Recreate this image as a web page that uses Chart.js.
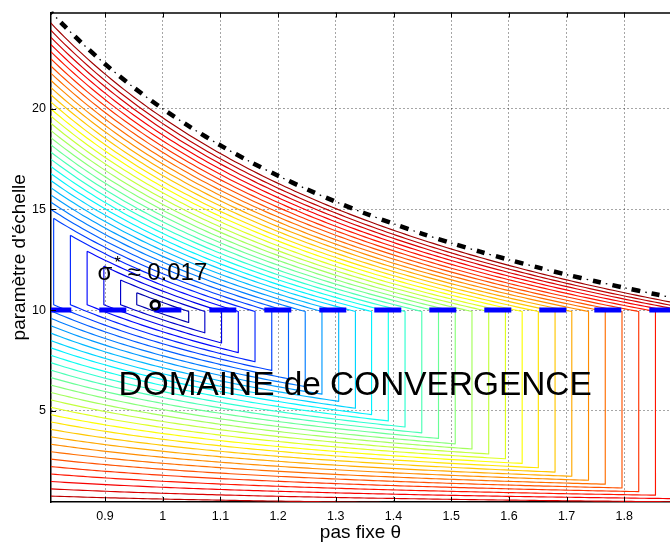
<!DOCTYPE html>
<html>
<head>
<meta charset="utf-8">
<script src="https://cdn.jsdelivr.net/npm/chart.js@4.4.1/dist/chart.umd.min.js"></script>
<style>
html,body{margin:0;padding:0;background:#fff;}
#wrap{width:670px;height:545px;}
</style>
</head>
<body>
<div id="wrap"><canvas id="c" width="670" height="545"></canvas></div>
<script>
// ---------- data ----------
const thetaRange = [0.8064, 1.8792];          // pas fixe θ (x axis limits)
const sigmaRange = [0.47, 24.78];             // paramètre d'échelle (y axis limits)
const thetaTicks = [0.9, 1.0, 1.1, 1.2, 1.3, 1.4, 1.5, 1.6, 1.7, 1.8];
const sigmaTicks = [5, 10, 15, 20];

// contour levels: each contour has vertical edges at θ = 1 ± level
const contourLevels = [0.045, 0.073, 0.102, 0.131, 0.160, 0.189, 0.218, 0.247, 0.276, 0.305,
                       0.334, 0.362, 0.391, 0.420, 0.449, 0.478, 0.507, 0.536, 0.565, 0.594,
                       0.623, 0.651, 0.680, 0.709, 0.738, 0.767, 0.796, 0.825, 0.854, 0.883,
                       0.912, 0.940, 0.969];
// σ where the upper / lower branch (σ·θ = const) of each contour meets its vertical edge
const upperJoinSigma = 9.93;
const lowerJoinSigma = 10.27;

// dashed blue threshold σ = 10
const thresholdTheta = [0.8, 1.9];
const thresholdSigma = [10, 10];

// dash-dot stability boundary
const boundaryTheta = [0.8064, 0.83, 0.86, 0.9, 0.95, 1.0, 1.05, 1.1, 1.15, 1.2, 1.25, 1.3,
                       1.35, 1.4, 1.45, 1.5, 1.55, 1.6, 1.65, 1.7, 1.75, 1.8, 1.85, 1.9];
const boundarySigma = [24.80, 24.10, 23.26, 22.22, 21.05, 20.00, 19.05, 18.18, 17.39, 16.67, 16.00, 15.38,
                       14.81, 14.29, 13.79, 13.33, 12.90, 12.50, 12.12, 11.76, 11.43, 11.11, 10.81, 10.53];

// optimum marker
const optimumTheta = [0.987];
const optimumSigma = [10.25];

// annotation texts and anchors (data coordinates)
const optimumText = { sym: 'σ', sup: '*', rest: '≈ 0.017', theta: 0.8868, sigma: 11.49 };
const domainText = { text: 'DOMAINE de CONVERGENCE', theta: 0.9235, sigma: 5.76 };

// ---------- helpers ----------
function clamp01(v){ return Math.max(0, Math.min(1, v)); }
function jet(t){
  const r = clamp01(1.5 - Math.abs(4*t - 3));
  const g = clamp01(1.5 - Math.abs(4*t - 2));
  const b = clamp01(1.5 - Math.abs(4*t - 1));
  return 'rgb(' + Math.round(r*255) + ',' + Math.round(g*255) + ',' + Math.round(b*255) + ')';
}
// trace one iso-line: upper branch σθ=cu, right edge θ=1+L, lower branch σθ=cl, left edge θ=1-L
function contourPath(L){
  const a = Math.max(1 - L, 0.79), b = Math.min(1 + L, 1.9);
  const cu = upperJoinSigma * (1 + L), cl = lowerJoinSigma * (1 - L);
  const n = Math.max(2, Math.ceil((b - a) / 0.008));
  const pts = [];
  for (let i = 0; i <= n; i++){ const t = a + (b - a) * i / n; pts.push({x: t, y: cu / t}); }
  for (let i = n; i >= 0; i--){ const t = a + (b - a) * i / n; pts.push({x: t, y: cl / t}); }
  pts.push({x: a, y: cu / a});
  return pts;
}
function zip(xs, ys){ return xs.map((v, i) => ({x: v, y: ys[i]})); }

// ---------- datasets ----------
const datasets = [];
contourLevels.forEach(L => {
  datasets.push({
    data: contourPath(L), showLine: true, borderColor: jet(L), borderWidth: 1.15,
    pointRadius: 0, pointHoverRadius: 0, borderJoinStyle: 'round', order: 10, clip: 0
  });
});
datasets.push({
  data: zip(thresholdTheta, thresholdSigma), showLine: true, borderColor: 'rgb(0,0,255)',
  borderWidth: 5, borderDash: [27, 28], borderDashOffset: 3, pointRadius: 0, order: 3, clip: 0
});
datasets.push({
  data: zip(boundaryTheta, boundarySigma), showLine: true, borderColor: '#000',
  borderWidth: 4.5, borderDash: [8.5, 11.5], borderDashOffset: 6, tension: 0.3,
  pointRadius: 0, order: 2, clip: 1
});
datasets.push({
  data: zip(boundaryTheta, boundarySigma), showLine: true, borderColor: '#000',
  borderWidth: 1.3, borderDash: [1.5, 18.5], borderDashOffset: 12.5, tension: 0.3,
  pointRadius: 0, order: 2, clip: 1
});
datasets.push({
  data: zip(optimumTheta, optimumSigma), showLine: false, pointRadius: 4.3,
  pointBorderWidth: 2.8, pointBorderColor: '#000', pointBackgroundColor: 'rgba(255,255,255,0)',
  order: 1
});

// ---------- plugins ----------
const FONT = '"Liberation Sans", Arial, Helvetica, sans-serif';
const framePlugin = {
  id: 'frame',
  afterDraw(chart){
    const {ctx, chartArea: ca, scales: {x, y}} = chart;
    ctx.save();
    ctx.strokeStyle = '#000';
    ctx.lineWidth = 1.5;
    ctx.beginPath(); ctx.moveTo(ca.left, ca.top + 0.5); ctx.lineTo(ca.right, ca.top + 0.5); ctx.stroke();
    ctx.lineWidth = 1;
    ctx.beginPath();
    thetaTicks.forEach(v => {
      const px = Math.round(x.getPixelForValue(v)) + 0.5;
      ctx.moveTo(px, ca.bottom); ctx.lineTo(px, ca.bottom - 5);
      ctx.moveTo(px, ca.top); ctx.lineTo(px, ca.top + 5);
    });
    sigmaTicks.forEach(v => {
      const py = Math.round(y.getPixelForValue(v)) + 0.5;
      ctx.moveTo(ca.left, py); ctx.lineTo(ca.left + 5, py);
    });
    ctx.stroke();
    ctx.restore();
  }
};
const textPlugin = {
  id: 'texts',
  afterDatasetsDraw(chart){
    const {ctx, scales: {x, y}} = chart;
    ctx.save();
    ctx.fillStyle = '#000';
    ctx.textBaseline = 'alphabetic';
    ctx.textAlign = 'left';
    let px = x.getPixelForValue(optimumText.theta), py = y.getPixelForValue(optimumText.sigma);
    ctx.font = '24px ' + FONT;
    ctx.fillText(optimumText.sym, px, py);
    ctx.font = '16px ' + FONT;
    ctx.fillText(optimumText.sup, px + 17, py - 12.5);
    ctx.font = '24px ' + FONT;
    ctx.fillText(optimumText.rest, px + 30, py);
    px = x.getPixelForValue(domainText.theta); py = y.getPixelForValue(domainText.sigma);
    ctx.font = '33.4px ' + FONT;
    ctx.fillText(domainText.text, px, py);
    ctx.restore();
  }
};

// ---------- chart ----------
new Chart(document.getElementById('c'), {
  type: 'scatter',
  data: { datasets },
  options: {
    responsive: false,
    animation: false,
    devicePixelRatio: 1,
    events: [],
    layout: { padding: { top: 10, right: 0, left: 0, bottom: 0 }, autoPadding: false },
    plugins: { legend: { display: false }, tooltip: { enabled: false } },
    scales: {
      x: {
        type: 'linear', position: 'bottom', min: thetaRange[0], max: thetaRange[1],
        afterBuildTicks: s => { s.ticks = thetaTicks.map(v => ({value: v})); },
        afterFit: s => { s.height = 43; },
        ticks: { callback: v => String(v), color: '#000', padding: 7, maxRotation: 0, autoSkip: false,
                 font: { family: FONT, size: 12.5 } },
        grid: { color: 'rgba(0,0,0,0.7)', lineWidth: 1, drawTicks: false },
        border: { display: true, color: '#000', width: 1.5, dash: [1, 3] },
        title: { display: true, text: 'pas fixe θ', color: '#000', font: { family: FONT, size: 19 },
                 padding: { top: 0, bottom: 1 } }
      },
      y: {
        type: 'linear', position: 'left', min: sigmaRange[0], max: sigmaRange[1],
        afterBuildTicks: s => { s.ticks = sigmaTicks.map(v => ({value: v})); },
        afterFit: s => { s.width = 51; },
        ticks: { callback: v => String(v), color: '#000', padding: 5, autoSkip: false,
                 font: { family: FONT, size: 12.5 } },
        grid: { color: 'rgba(0,0,0,0.7)', lineWidth: 1, drawTicks: false },
        border: { display: true, color: '#000', width: 1.5, dash: [1, 3] },
        title: { display: true, text: "paramètre d'échelle", color: '#000', font: { family: FONT, size: 19 },
                 padding: { top: 8, bottom: 0 } }
      }
    }
  },
  plugins: [framePlugin, textPlugin]
});
</script>
</body>
</html>
